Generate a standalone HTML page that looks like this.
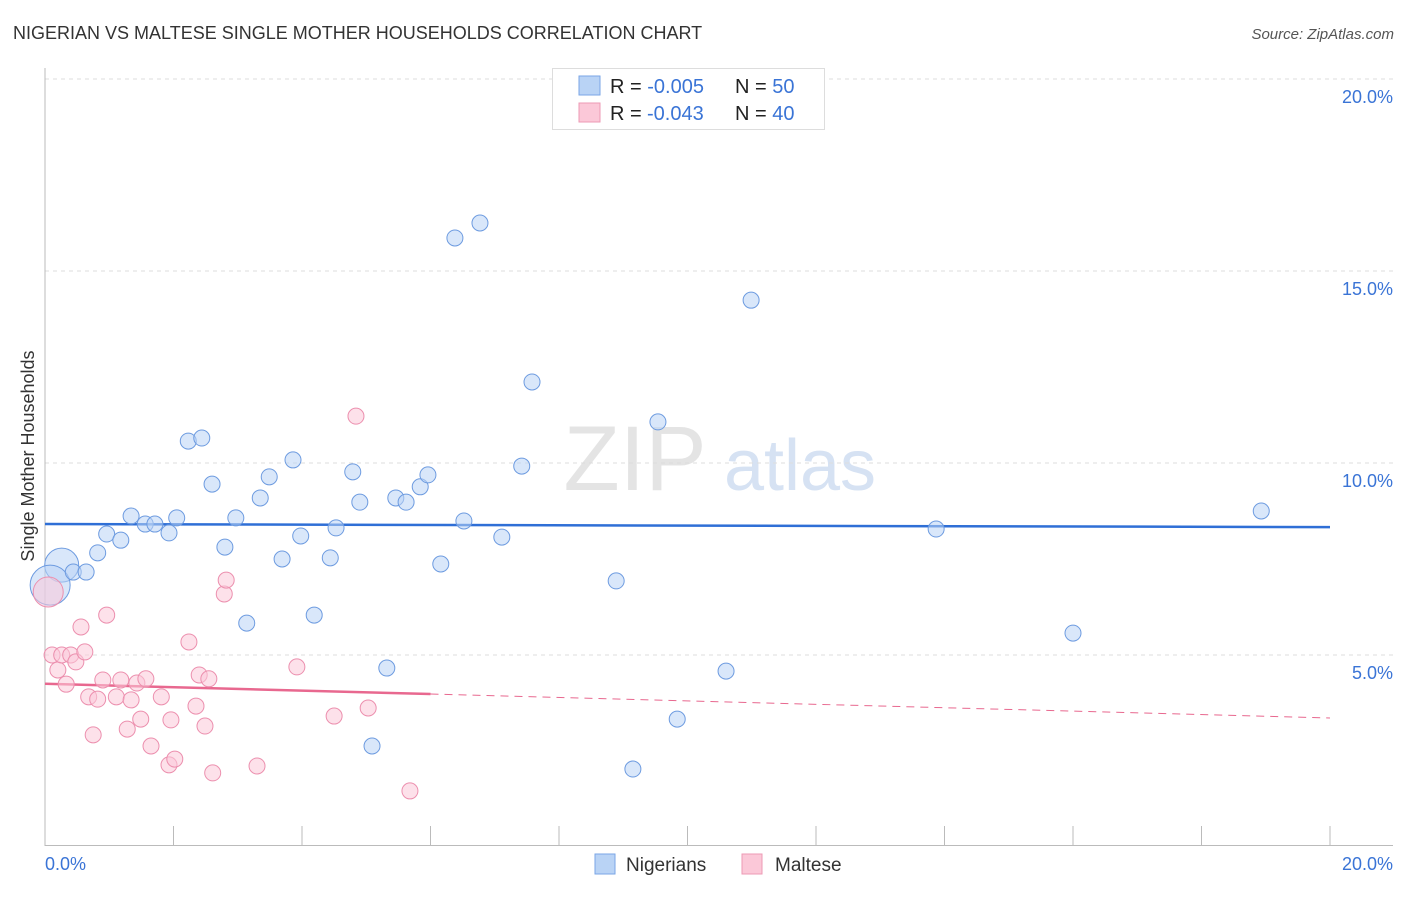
<!DOCTYPE html>
<html><head><meta charset="utf-8"><style>
body{margin:0;background:#fff;font-family:"Liberation Sans",sans-serif;}
svg text{font-family:"Liberation Sans",sans-serif;}
</style></head><body>
<svg width="1406" height="892" xmlns="http://www.w3.org/2000/svg" id="chart">
<text x="13" y="39" font-size="18" fill="#333">NIGERIAN VS MALTESE SINGLE MOTHER HOUSEHOLDS CORRELATION CHART</text>
<text x="1394" y="39" font-size="15" fill="#555" font-style="italic" text-anchor="end">Source: ZipAtlas.com</text>
<text transform="translate(34,456) rotate(-90)" font-size="18" fill="#333" text-anchor="middle">Single Mother Households</text>
<g><text x="635" y="490" font-size="92" fill="#e4e4e4" font-family="Liberation Serif" text-anchor="middle">ZIP</text><text x="800" y="490" font-size="72" fill="#d6e2f3" text-anchor="middle">atlas</text></g>
<g id="grid"></g><g id="axes"></g><g id="trends"></g><g id="points"></g>
<g>
<rect x="552.5" y="68.5" width="272" height="61" fill="#fff" stroke="#ddd"/>
<rect x="579" y="76" width="21" height="19" fill="#b9d3f5" stroke="#7aa6e6"/>
<rect x="579" y="103" width="21" height="19" fill="#fbc8d8" stroke="#ec9ab4"/>
<text x="610" y="93" font-size="20" fill="#222">R = <tspan fill="#3a74d6">-0.005</tspan><tspan x="735">N = </tspan><tspan fill="#3a74d6">50</tspan></text>
<text x="610" y="120" font-size="20" fill="#222">R = <tspan fill="#3a74d6" x="647">-0.043</tspan><tspan x="735">N = </tspan><tspan fill="#3a74d6">40</tspan></text>
</g>
<g>
<rect x="595" y="854" width="20" height="20" fill="#b9d3f5" stroke="#7aa6e6"/>
<text x="626" y="871" font-size="19" fill="#333">Nigerians</text>
<rect x="742" y="854" width="20" height="20" fill="#fbc8d8" stroke="#ec9ab4"/>
<text x="775" y="871" font-size="19" fill="#333">Maltese</text>
</g>
</svg>
<script>
const blueX=[0.26,0.08,0.44,0.64,0.82,0.96,1.18,1.34,1.56,1.71,1.93,2.05,2.23,2.44,2.60,2.80,2.97,3.14,3.35,3.49,3.69,3.86,3.98,4.19,4.44,4.53,4.79,4.90,5.09,5.32,5.46,5.62,5.84,5.96,6.16,6.38,6.52,6.77,7.11,7.42,7.58,8.89,9.15,9.54,9.84,10.60,10.99,13.87,16.00,18.93];
const blueY=[7.34,6.82,7.16,7.16,7.66,8.15,7.99,8.62,8.41,8.41,8.18,8.57,10.57,10.65,9.45,7.81,8.57,5.83,9.09,9.64,7.50,10.08,8.10,6.04,7.53,8.31,9.77,8.98,2.63,4.66,9.09,8.98,9.38,9.69,7.37,15.86,8.49,16.25,8.07,9.92,12.11,6.93,2.03,11.07,3.33,4.58,14.24,8.28,5.57,8.75];
const pinkX=[0.05,0.11,0.20,0.26,0.33,0.40,0.48,0.56,0.62,0.68,0.75,0.82,0.90,0.96,1.11,1.18,1.28,1.34,1.43,1.49,1.57,1.65,1.81,1.93,1.96,2.02,2.24,2.35,2.40,2.49,2.55,2.61,2.79,2.82,3.30,3.92,4.50,4.84,5.03,5.68];
const pinkY=[6.64,5.00,4.61,5.00,4.24,5.00,4.82,5.73,5.08,3.91,2.92,3.85,4.35,6.04,3.91,4.35,3.07,3.83,4.27,3.33,4.38,2.63,3.91,2.14,3.31,2.29,5.34,3.67,4.48,3.15,4.38,1.93,6.59,6.95,2.11,4.69,3.41,11.22,3.62,1.46];
const yTicks=[5,10,15,20];
const tickLabels=["5.0%","10.0%","15.0%","20.0%"];
const blueTrend=[8.41,8.33];
const pinkTrend=[4.25,3.36];
const pinkSolidEnd=6;
const NS="http://www.w3.org/2000/svg";
const X=v=>45+v*64.25, Y=v=>847-v*38.4;
function mk(tag,attrs,parent){const e=document.createElementNS(NS,tag);for(const k in attrs)e.setAttribute(k,attrs[k]);document.getElementById(parent).appendChild(e);return e;}
yTicks.forEach((t,i)=>{
 const l=mk('line',{x1:45,x2:1393,y1:Y(t),y2:Y(t),stroke:'#ddd','stroke-dasharray':'4,4'},'grid');
 
 
 const tx=mk('text',{x:1393,y:Y(t)+24,'font-size':18,fill:'#3a74d6','text-anchor':'end'},'grid');
 tx.textContent=tickLabels[i];
 
 
});
const ax=mk('line',{x1:45,x2:45,y1:68,y2:846,stroke:'#bbb'},'axes');


const bx=mk('line',{x1:45,x2:1393,y1:845.5,y2:845.5,stroke:'#bbb'},'axes');


for(let i=1;i<=10;i++){const t=mk('line',{x1:X(i*2),x2:X(i*2),y1:826,y2:846,stroke:'#bbb'},'axes');
 
 }
[[0,"0.0%",'start',45],[20,"20.0%",'end',1393]].forEach(a=>{const t=mk('text',{x:a[3],y:870,'font-size':18,fill:'#3a74d6','text-anchor':a[2]},'axes');t.textContent=a[1];
 
 });
function dot(x,y,fill,stroke,r,name){const c=mk('circle',{cx:X(x),cy:Y(y),r:r,fill:fill,'fill-opacity':0.55,stroke:stroke,'stroke-width':1},'points');
 
 }
blueX.forEach((x,i)=>dot(x,blueY[i],'#b9d3f5','#6d9be0',i===0?17:(i===1?20:8),'nigerian-point'));
pinkX.forEach((x,i)=>dot(x,pinkY[i],'#fbc8d8','#ec8fae',i===0?15:8,'maltese-point'));
const bt=mk('line',{x1:X(0),x2:X(20),y1:Y(blueTrend[0]),y2:Y(blueTrend[1]),stroke:'#2f6fd6','stroke-width':2.5},'trends');


const pAt=v=>pinkTrend[0]+(pinkTrend[1]-pinkTrend[0])*v/20;
const ps=mk('line',{x1:X(0),x2:X(pinkSolidEnd),y1:Y(pAt(0)),y2:Y(pAt(pinkSolidEnd)),stroke:'#e8688f','stroke-width':2.5},'trends');


const pd=mk('line',{x1:X(pinkSolidEnd),x2:X(20),y1:Y(pAt(pinkSolidEnd)),y2:Y(pAt(20)),stroke:'#e8688f','stroke-width':1,'stroke-dasharray':'8,6'},'trends');


</script>
</body></html>
